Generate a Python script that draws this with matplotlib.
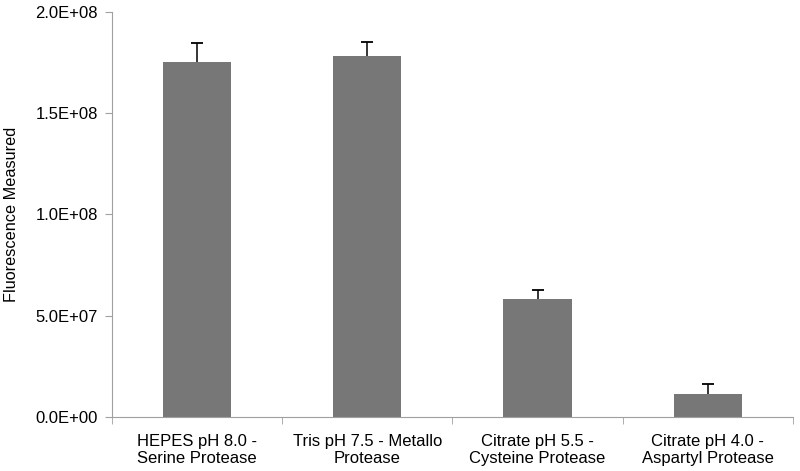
import matplotlib.pyplot as plt
import numpy as np
from matplotlib.ticker import FuncFormatter

plt.rcParams['font.family'] = ['Liberation Sans', 'DejaVu Sans']

categories = ["HEPES pH 8.0 -\nSerine Protease", "Tris pH 7.5 - Metallo\nProtease",
              "Citrate pH 5.5 -\nCysteine Protease", "Citrate pH 4.0 -\nAspartyl Protease"]
values = [1.753e8, 1.783e8, 0.583e8, 0.114e8]
errors = [0.094e8, 0.069e8, 0.044e8, 0.049e8]

fig = plt.figure(figsize=(8, 4.71), dpi=100)
ax = fig.add_axes([0.14, 0.1146, 0.851, 0.86])

x = np.arange(len(categories))
tops = np.array(values) + np.array(errors)
ax.bar(x, values, width=0.4, color='#777777', zorder=2)
# upper-only error bars
ax.vlines(x, values, tops, color='black', lw=1.1, zorder=3)
ax.plot(x, tops, linestyle='none', marker='_', ms=8, mew=1.3, color='black', zorder=3)

ax.set_xlim(-0.5, len(categories) - 0.5)
ax.set_ylim(0, 2.0e8)
ax.set_yticks(np.arange(0, 2.01e8, 0.5e8))
ax.yaxis.set_major_formatter(FuncFormatter(lambda v, p: ("%.1E" % v)))
ax.set_xticks(x)
ax.set_xticklabels(categories, fontsize=12)
ax.set_xticks(np.arange(-0.5, len(categories)), minor=True)
ax.tick_params(axis='x', which='major', length=0, pad=12)
ax.tick_params(axis='x', which='minor', length=5, color='#a0a0a0', direction='out')
ax.tick_params(axis='y', length=5, color='#a0a0a0', labelsize=12, pad=5)
ax.set_ylabel("Fluorescence Measured", fontsize=11.7, labelpad=12)

for s in ['top', 'right']:
    ax.spines[s].set_visible(False)
for s in ['left', 'bottom']:
    ax.spines[s].set_color('#a0a0a0')

fig.savefig('out.png', dpi=100)
